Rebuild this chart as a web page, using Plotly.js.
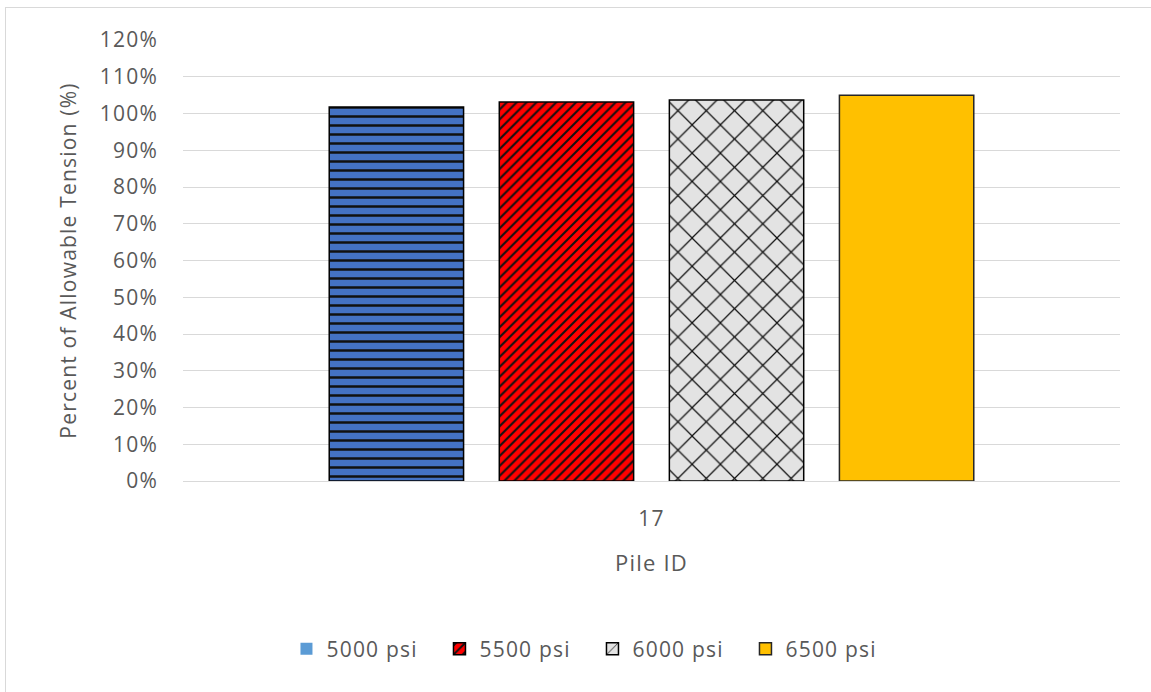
<!DOCTYPE html>
<html><head><meta charset="utf-8">
<script src="https://cdn.plot.ly/plotly-3.0.1.min.js"></script>
<style>html,body{margin:0;padding:0;background:#fff;}#frame{position:absolute;left:5px;top:7px;width:1160px;height:700px;border:1px solid #d9d9d9;pointer-events:none;}
svg text{letter-spacing:1.2px;}</style>
</head><body>
<div id="chart" style="width:1151px;height:692px;"></div>
<div id="frame"></div>
<script>
const categories = ["17"];
const seriesNames = ["5000 psi", "5500 psi", "6000 psi", "6500 psi"];
const s5000 = [1.018];
const s5500 = [1.031];
const s6000 = [1.037];
const s6500 = [1.050];
const yTickVals = [0,0.1,0.2,0.3,0.4,0.5,0.6,0.7,0.8,0.9,1.0,1.1,1.2];
const yTickText = ["0%","10%","20%","30%","40%","50%","60%","70%","80%","90%","100%","110%","120%"];

const font = {family: "Open Sans, Noto Sans, sans-serif", color: "#595959", size: 21};
const styles = [
  {color: "#4472C4", line: {color: "#000", width: 1.5},
   pattern: {shape: "-", fgcolor: "#111", bgcolor: "#4472C4", size: 9, solidity: 0.28}},
  {color: "#FF0000", line: {color: "#000", width: 1.5},
   pattern: {shape: "/", fgcolor: "#111", bgcolor: "#FF0000", size: 7, solidity: 0.3}},
  {color: "#E3E3E3", line: {color: "#000", width: 1.5},
   pattern: {shape: "x", fgcolor: "#111", bgcolor: "#E3E3E3", size: 20, solidity: 0.12}},
  {color: "#FFC000", line: {color: "#262626", width: 1.5}}
];
const legendStyles = [
  {color: "#5B9BD5", line: {width: 0}},
  {color: "#FF0000", line: {color: "#000", width: 1.5},
   pattern: {shape: "/", fgcolor: "#111", bgcolor: "#FF0000", size: 8, solidity: 0.3}},
  {color: "#E3E3E3", line: {color: "#000", width: 1.5},
   pattern: {shape: "/", fgcolor: "#111", bgcolor: "#E3E3E3", size: 14, solidity: 0.1}},
  {color: "#FFC000", line: {color: "#262626", width: 1.5}}
];
const values = [s5000, s5500, s6000, s6500];
const traces = [];
values.forEach((v, i) => {
  traces.push({name: seriesNames[i], x: categories, y: v, type: "bar", showlegend: false, marker: styles[i]});
});
values.forEach((v, i) => {
  traces.push({name: seriesNames[i], x: categories, y: [null], type: "bar", xaxis: "x2", yaxis: "y2",
    showlegend: true, marker: legendStyles[i]});
});
const layout = {
  width: 1151, height: 692,
  margin: {l: 183, r: 31, t: 40, b: 211},
  paper_bgcolor: "#fff", plot_bgcolor: "#fff",
  font: font,
  barmode: "group", bargap: 0.274, bargroupgap: 0.21,
  showlegend: true,
  legend: {orientation: "h", x: 0.437, xanchor: "center", y: -0.381, yanchor: "middle",
    font: {family: font.family, color: "#595959", size: 21}, traceorder: "normal", itemwidth: 30,
    entrywidth: 108, entrywidthmode: "pixels"},
  xaxis: {type: "category", showgrid: false, zeroline: false, showline: true, linecolor: "#d9d9d9", linewidth: 1,
    ticks: "", ticklabelstandoff: 19, tickfont: {size: 21},
    title: {text: "Pile ID", font: {size: 22, color: "#595959"}, standoff: 24}},
  yaxis: {range: [0, 1.2], tickvals: yTickVals, ticktext: yTickText, showgrid: true, gridcolor: "#d9d9d9",
    gridwidth: 1, zeroline: false, showline: false, ticks: "", ticklabelstandoff: 24, tickfont: {size: 21},
    title: {text: "Percent of Allowable Tension (%)", font: {size: 21, color: "#595959"}, standoff: 17}},
  xaxis2: {overlaying: "x", visible: false, type: "category"},
  yaxis2: {overlaying: "y", visible: false, range: [0, 1.2]}
};
Plotly.newPlot("chart", traces, layout, {displayModeBar: false, staticPlot: true});
</script>
</body></html>
